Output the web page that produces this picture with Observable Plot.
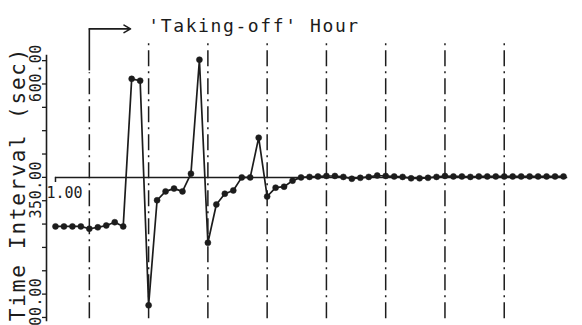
<!DOCTYPE html>
<html><head><meta charset="utf-8">
<script src="https://cdn.jsdelivr.net/npm/d3@7"></script>
<script src="https://cdn.jsdelivr.net/npm/@observablehq/plot@0.6"></script>
<style>html,body{margin:0;padding:0;background:#fff} svg{display:block}</style>
</head><body><div id="chart"></div>
<script>
// Time interval (sec) per observation, index = sample number (7 samples per hour)
const intervals = [
  295, 295, 295, 295, 290, 293, 297, 304, 295, 611,
  607, 126, 351, 370, 376, 370, 408, 652, 260, 342,
  365, 372, 400, 400, 485, 359, 378, 380, 393, 400,
  401, 402, 403, 403, 401, 397, 399, 401, 404, 403,
  402, 401, 398, 398, 399, 401, 403, 402, 402, 401,
  402, 402, 402, 402, 402, 402, 402, 402, 402, 402,
  402
];
const hourMarks = [4, 11, 18, 25, 32, 39, 46, 53];
const yTicks = [100, 150, 200, 250, 300, 350, 400, 450, 500, 550, 600, 650];
const yLabels = [100, 350, 600];
const refValue = 400;
const refLabel = "1.00";
const axisTitle = "Time Interval (sec)";
const annotation = "'Taking-off' Hour";

const data = intervals.map((v, i) => ({i, v}));
const ink = "#1c1c1c";
const dash = "16,5,2,5";
const mono = "DejaVu Sans Mono";
const lastIndex = intervals.length - 1;
const topY = 692, botY = 97, firstTop = 624, arrowY = 718;
const fmt = d3.format(".2f");

const svg = Plot.plot({
  width: 582, height: 325,
  marginLeft: 46, marginRight: 19, marginTop: 55, marginBottom: 5,
  x: {domain: [-1.06, lastIndex], axis: null},
  y: {domain: [93.5, 661], axis: null},
  style: {background: "#fff", fontFamily: mono, color: ink},
  marks: [
    Plot.frame({anchor: "left", stroke: ink, strokeWidth: 1.6}),
    Plot.axisY({ticks: yTicks, tickSize: 4, tickFormat: () => "", label: null, stroke: ink, strokeWidth: 1.3}),
    Plot.axisY({ticks: yLabels, tickSize: 0, tickPadding: 6, tickRotate: -90, tickFormat: fmt, label: null,
      dy: -11, fontSize: 15, fill: ink, fontFamily: mono}),
    Plot.text([axisTitle], {frameAnchor: "left", rotate: -90, dx: -22, dy: -4, textAnchor: "middle", lineAnchor: "bottom",
      fontSize: 21, fill: ink, fontFamily: mono}),
    Plot.ruleX(hourMarks.slice(1), {y1: botY, y2: topY, stroke: ink, strokeWidth: 1.5, strokeDasharray: dash}),
    Plot.ruleX(hourMarks.slice(0, 1), {y1: botY, y2: firstTop, stroke: ink, strokeWidth: 1.5, strokeDasharray: dash}),
    Plot.ruleX(hourMarks.slice(0, 1), {y1: firstTop + 4, y2: arrowY, stroke: ink, strokeWidth: 1.6}),
    Plot.arrow(hourMarks.slice(0, 1), {x1: d => d, x2: d => d + 4.86, y1: arrowY, y2: arrowY,
      stroke: ink, strokeWidth: 1.6, headLength: 7}),
    Plot.text([annotation], {x: hourMarks[0], y: arrowY, dx: 59, dy: 3, textAnchor: "start", lineAnchor: "bottom",
      fontSize: 18, fill: ink, fontFamily: mono}),
    Plot.ruleY([refValue], {x1: 0, x2: lastIndex + 0.5, stroke: ink, strokeWidth: 1.5}),
    Plot.ruleX([0], {y1: refValue, y2: refValue - 11, stroke: ink, strokeWidth: 1.5}),
    Plot.text([refLabel], {x: 0, y: refValue, dx: -9, dy: 21, textAnchor: "start", lineAnchor: "bottom",
      fontSize: 15, fill: ink, fontFamily: mono}),
    Plot.line(data, {x: "i", y: "v", stroke: ink, strokeWidth: 1.7}),
    Plot.dot(data, {x: "i", y: "v", r: 3, fill: ink, stroke: ink, strokeWidth: 0.5})
  ]
});
const texts = d3.select(svg).selectAll("text");
texts.filter(function() { return this.textContent === axisTitle; }).attr("letter-spacing", "1.8px");
texts.filter(function() { return this.textContent === annotation; }).attr("letter-spacing", "1.6px");
texts.filter(function() { return yLabels.map(fmt).includes(this.textContent); }).attr("letter-spacing", "0.6px");
document.getElementById("chart").appendChild(svg);
</script>
</body></html>
